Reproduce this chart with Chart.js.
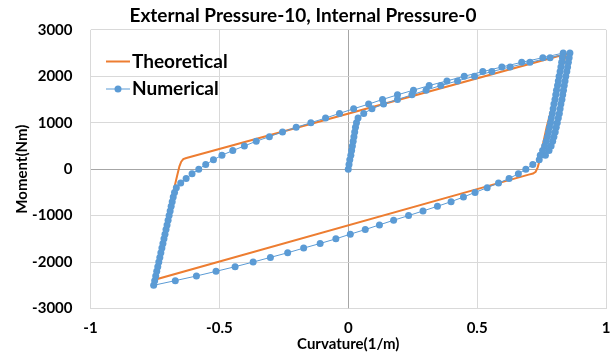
<!DOCTYPE html>
<html>
<head>
<meta charset="utf-8">
<script src="https://cdn.jsdelivr.net/npm/chart.js@4.4.1/dist/chart.umd.min.js"></script>
<style>
  html, body { margin: 0; padding: 0; background: #fff; }
  #wrap { width: 616px; height: 354px; }
</style>
</head>
<body>
<div id="wrap"><canvas id="momentCurvature" width="616" height="354"></canvas></div>
<script>
const chartTitle = "External Pressure-10, Internal Pressure-0";
const xTickValues = [-1, -0.5, 0, 0.5, 1];
const yTickValues = [-3000, -2000, -1000, 0, 1000, 2000, 3000];

// Theoretical hysteresis loop (closed)
const theoCurvature = [-0.628, 0.845, 0.770, 0.752, 0.742, 0.735, 0.727, 0.717, 0.700,
  -0.748, -0.677, -0.671, -0.663, -0.655, -0.648, -0.640, -0.628];
const theoMoment = [240, 2480, 911, 450, 180, 40, -60, -95, -118,
  -2377, -453, -308, -120, 60, 160, 215, 240];

// Numerical result, in loading order
const numCurvature = [
  0, 0.003, 0.006, 0.010, 0.013, 0.016, 0.019, 0.022, 0.025, 0.028, 0.032, 0.038, 0.060,
  0.092, 0.137, 0.191, 0.247, 0.302, 0.359, 0.424, 0.490, 0.557, 0.628, 0.705, 0.783, 0.860,
  0.857, 0.854, 0.851, 0.848, 0.844, 0.841, 0.838, 0.835, 0.832, 0.829, 0.825, 0.822, 0.819,
  0.815, 0.811, 0.807, 0.803, 0.798, 0.793, 0.787, 0.779, 0.765,
  0.741, 0.716, 0.689, 0.660, 0.624, 0.583, 0.539, 0.492, 0.447, 0.399, 0.346, 0.290, 0.234,
  0.176, 0.121, 0.066, 0.008, -0.048, -0.109, -0.173, -0.235, -0.302, -0.369, -0.439, -0.513,
  -0.589, -0.671, -0.755,
  -0.751, -0.747, -0.743, -0.739, -0.735, -0.731, -0.727, -0.723, -0.719, -0.715, -0.711,
  -0.707, -0.703, -0.699, -0.695, -0.691, -0.687, -0.683, -0.679, -0.674, -0.667, -0.650,
  -0.629, -0.606, -0.580, -0.553, -0.523, -0.490, -0.448, -0.403, -0.357, -0.306, -0.255,
  -0.202, -0.145, -0.088, -0.034, 0.021, 0.079, 0.133, 0.191, 0.253, 0.314, 0.383, 0.450,
  0.522, 0.596, 0.673, 0.755, 0.834,
  0.831, 0.828, 0.825, 0.822, 0.818, 0.815, 0.812, 0.808, 0.805, 0.802, 0.798, 0.795, 0.792,
  0.788, 0.785, 0.781, 0.777, 0.773, 0.768, 0.762, 0.754, 0.745
];
const numMoment = [
  0, 100, 200, 300, 400, 500, 600, 700, 800, 900, 1000, 1100, 1200,
  1300, 1400, 1500, 1600, 1700, 1800, 1900, 2000, 2100, 2200, 2300, 2400, 2500,
  2400, 2300, 2200, 2100, 2000, 1900, 1800, 1700, 1600, 1500, 1400, 1300, 1200,
  1100, 1000, 900, 800, 700, 600, 500, 400, 300,
  200, 100, 0, -100, -200, -300, -400, -500, -600, -700, -800, -900, -1000,
  -1100, -1200, -1300, -1400, -1500, -1600, -1700, -1800, -1900, -2000, -2100, -2200,
  -2300, -2400, -2500,
  -2400, -2300, -2200, -2100, -2000, -1900, -1800, -1700, -1600, -1500, -1400,
  -1300, -1200, -1100, -1000, -900, -800, -700, -600, -500, -400, -300,
  -200, -100, 0, 100, 200, 300, 400, 500, 600, 700, 800,
  900, 1000, 1100, 1200, 1300, 1400, 1500, 1600, 1700, 1800, 1900, 2000,
  2100, 2200, 2300, 2400, 2500,
  2400, 2300, 2200, 2100, 2000, 1900, 1800, 1700, 1600, 1500, 1400, 1300, 1200,
  1100, 1000, 900, 800, 700, 600, 500, 400, 300
];

const ORANGE = "#ED7D31";
const BLUE = "#5B9BD5";
const FONT = "Lato, 'Liberation Sans', sans-serif";

const toPoints = (xs, ys) => xs.map((x, i) => ({ x: x, y: ys[i] }));

// legend sits inside the plot, top left
const insideLegend = {
  id: "insideLegend",
  afterDatasetsDraw(chart) {
    const ctx = chart.ctx;
    ctx.save();
    ctx.font = "bold 19px " + FONT;
    ctx.textBaseline = "middle";
    ctx.fillStyle = "#000";

    ctx.strokeStyle = ORANGE;
    ctx.lineWidth = 2;
    ctx.beginPath();
    ctx.moveTo(106, 61.5);
    ctx.lineTo(130, 61.5);
    ctx.stroke();
    ctx.fillText("Theoretical", 132, 61.5);

    ctx.strokeStyle = BLUE;
    ctx.lineWidth = 1;
    ctx.beginPath();
    ctx.moveTo(106, 89);
    ctx.lineTo(130, 89);
    ctx.stroke();
    ctx.fillStyle = BLUE;
    ctx.beginPath();
    ctx.arc(118, 89, 3.5, 0, Math.PI * 2);
    ctx.fill();
    ctx.fillStyle = "#000";
    ctx.fillText("Numerical", 132, 89);
    ctx.restore();
  }
};

const gridColor = ctx => (ctx.tick && ctx.tick.value === 0) ? "#a6a6a6" : "#d9d9d9";

new Chart(document.getElementById("momentCurvature"), {
  type: "scatter",
  data: {
    datasets: [
      {
        label: "Numerical",
        data: toPoints(numCurvature, numMoment),
        showLine: true,
        borderColor: BLUE,
        borderWidth: 1,
        backgroundColor: BLUE,
        pointRadius: 3.5,
        pointBorderWidth: 0,
        order: 1
      },
      {
        label: "Theoretical",
        data: toPoints(theoCurvature, theoMoment),
        showLine: true,
        borderColor: ORANGE,
        borderWidth: 2,
        pointRadius: 0,
        tension: 0,
        order: 2
      }
    ]
  },
  options: {
    responsive: false,
    animation: false,
    layout: { padding: { left: 0, right: 10, top: 0, bottom: 0 } },
    plugins: {
      legend: { display: false },
      tooltip: { enabled: false },
      title: {
        display: true,
        text: chartTitle,
        color: "#000",
        font: { family: FONT, size: 19, weight: "bold" },
        padding: { top: 4, bottom: 3 }
      }
    },
    scales: {
      x: {
        type: "linear",
        min: -1,
        max: 1,
        afterBuildTicks: scale => { scale.ticks = xTickValues.map(v => ({ value: v })); },
        afterFit: scale => {
          scale.height = 45.5;
          // keep the end labels from squeezing the plot area
          scale.paddingLeft = 4;
          scale.paddingRight = 4;
        },
        ticks: {
          color: "#000",
          font: { family: FONT, size: 15, weight: "bold" },
          padding: 11,
          callback: v => String(v)
        },
        grid: { color: gridColor, drawTicks: false },
        border: { display: false },
        title: {
          display: true,
          text: "Curvature(1/m)",
          color: "#000",
          font: { family: FONT, size: 15, weight: "bold" },
          padding: { top: 0, bottom: 1 }
        }
      },
      y: {
        type: "linear",
        min: -3000,
        max: 3000,
        afterBuildTicks: scale => { scale.ticks = yTickValues.map(v => ({ value: v })); },
        afterFit: scale => { scale.width = 90.5; },
        ticks: {
          color: "#000",
          font: { family: FONT, size: 15, weight: "bold" },
          padding: 18,
          callback: v => String(v)
        },
        grid: { color: gridColor, drawTicks: false },
        border: { display: false },
        title: {
          display: true,
          text: "Moment(Nm)",
          color: "#000",
          font: { family: FONT, size: 15, weight: "bold" },
          padding: { top: 13, bottom: 0 }
        }
      }
    }
  },
  plugins: [insideLegend]
});
</script>
</body>
</html>
